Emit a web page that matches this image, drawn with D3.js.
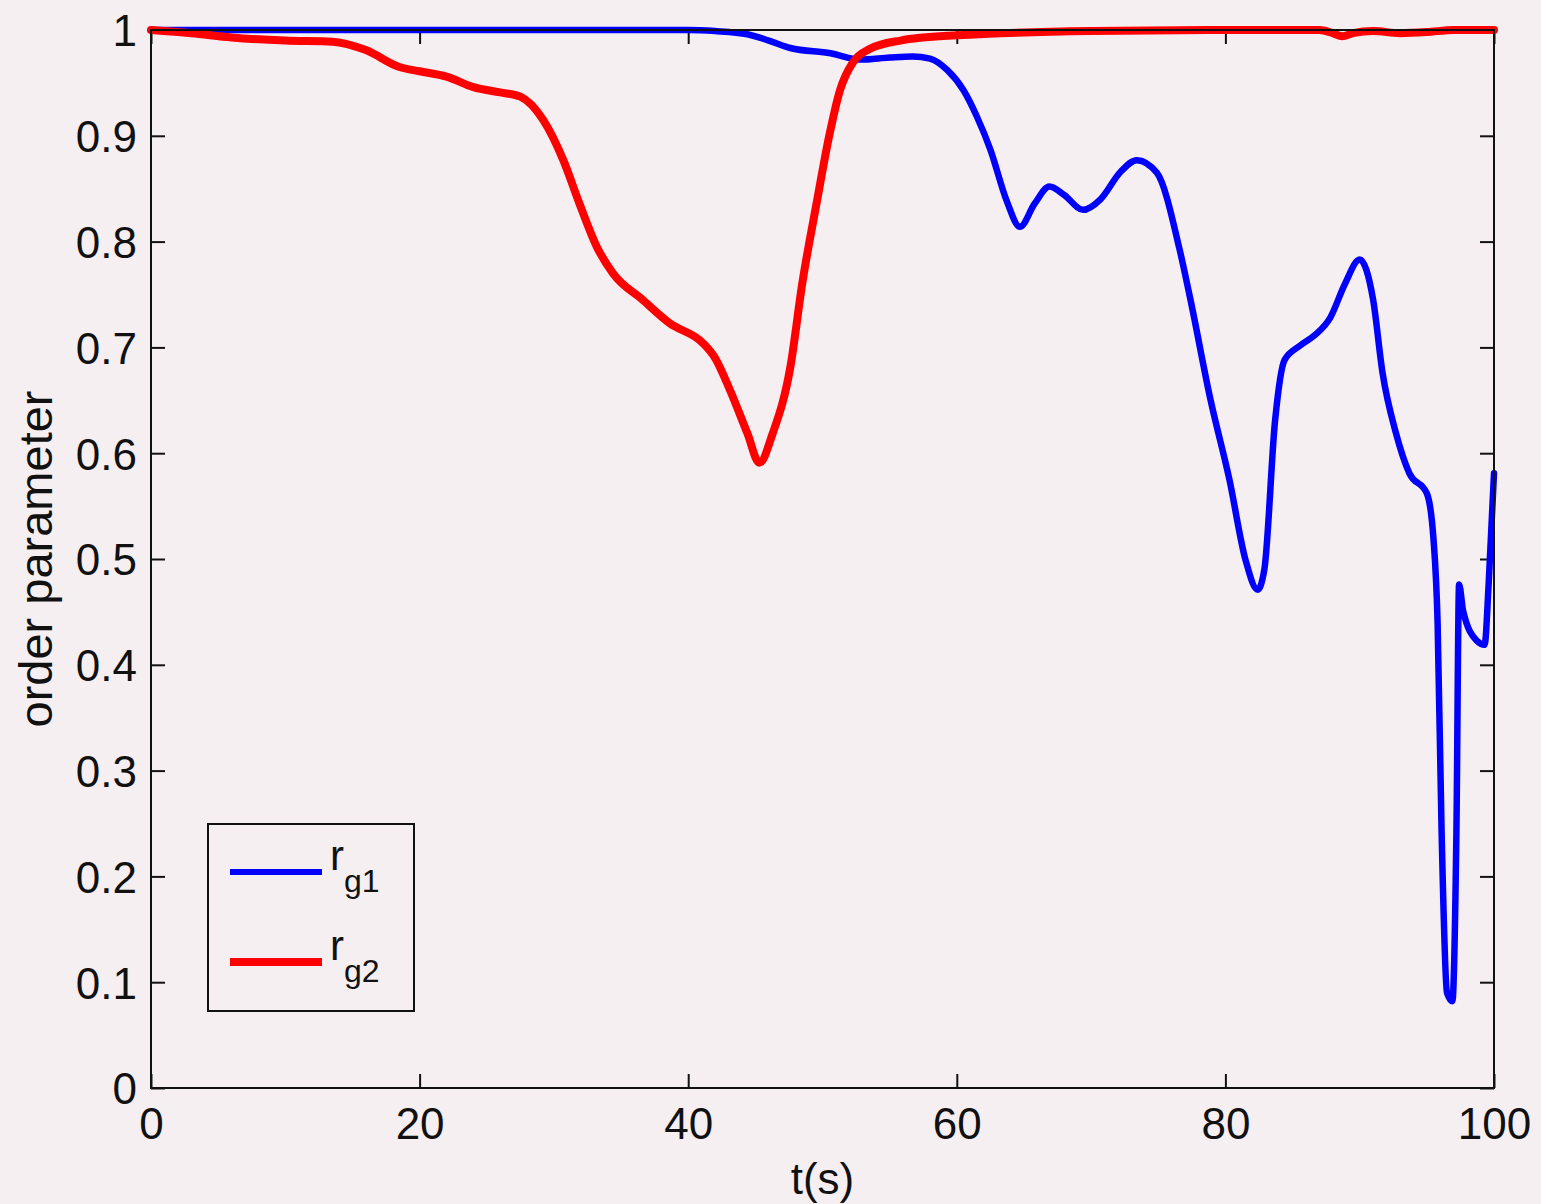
<!DOCTYPE html>
<html>
<head>
<meta charset="utf-8">
<script src="https://cdn.jsdelivr.net/npm/d3@7"></script>
<style>
  body { margin: 0; background: #f6eff2; }
  svg { display: block; }
  text { font-family: "Liberation Sans", Arial, Helvetica, sans-serif; fill: #111; }
</style>
</head>
<body>
<div id="chart"></div>
<script>
// r_g1 (blue)
const tBlue = [0, 40, 42, 44.4, 46, 47.6, 50.6, 52.8, 55, 56.7, 58, 59.3, 60.5, 61.5, 62.5, 63.7, 64.7, 65.8, 66.9, 68, 69.4, 70.7, 72.2, 73.4, 74.9, 76.6, 77.4, 78.9, 80.3, 81.5, 82.4, 82.9, 83.7, 84.4, 85.6, 86.7, 87.8, 88.9, 90, 91, 91.7, 92.7, 93.7, 95.0, 95.5, 95.8, 96.1, 96.5, 96.9, 97.2, 97.4, 97.7, 98.7, 99.3, 99.6, 100];
const vBlue = [1, 1, 0.999, 0.996, 0.99, 0.983, 0.978, 0.972, 0.974, 0.975, 0.973, 0.962, 0.943, 0.918, 0.887, 0.839, 0.814, 0.836, 0.852, 0.844, 0.83, 0.84, 0.866, 0.877, 0.865, 0.792, 0.745, 0.65, 0.575, 0.499, 0.471, 0.49, 0.631, 0.688, 0.702, 0.712, 0.728, 0.76, 0.783, 0.745, 0.676, 0.619, 0.581, 0.562, 0.518, 0.44, 0.241, 0.09, 0.082, 0.241, 0.476, 0.451, 0.423, 0.419, 0.476, 0.581];

// r_g2 (red)
const tRed = [0, 3, 6, 10, 13.5, 16, 18.5, 20, 22, 24, 26, 27.5, 29.2, 30.7, 31.9, 33.2, 34.4, 36.6, 38.6, 41.1, 42, 43.1, 44.4, 45.3, 46.3, 47.6, 48.5, 49.6, 50.5, 51.3, 52.3, 53.5, 55.8, 60, 70, 80, 87, 88, 88.7, 89.5, 91, 93, 95, 97, 100];
const vRed = [1, 0.997, 0.993, 0.99, 0.989, 0.981, 0.965, 0.961, 0.956, 0.946, 0.941, 0.937, 0.915, 0.877, 0.836, 0.795, 0.77, 0.745, 0.723, 0.704, 0.69, 0.66, 0.619, 0.591, 0.619, 0.681, 0.761, 0.839, 0.9, 0.943, 0.97, 0.982, 0.99, 0.995, 0.999, 1, 1, 0.997, 0.994, 0.997, 0.999, 0.997, 0.998, 1, 1];

const xTicks = [0, 20, 40, 60, 80, 100];
const yTicks = [0, 0.1, 0.2, 0.3, 0.4, 0.5, 0.6, 0.7, 0.8, 0.9, 1];
const legendLabels = [['r', 'g1'], ['r', 'g2']];
const colors = ['#0000ff', '#ff0000'];

const W = 1541, H = 1204;
const margin = { left: 151, top: 30, right: 47, bottom: 116 };
const pw = W - margin.left - margin.right;
const ph = H - margin.top - margin.bottom;

const svg = d3.select('#chart').append('svg')
  .attr('width', W)
  .attr('height', H);

const g = svg.append('g').attr('transform', 'translate(' + margin.left + ',' + margin.top + ')');

const x = d3.scaleLinear().domain([0, 100]).range([0, pw]);
const y = d3.scaleLinear().domain([0, 1]).range([ph, 0]);

const tickLen = 14;

// axes: ticks point inward, on all four sides
const xAxis = d3.axisBottom(x).tickValues(xTicks).tickSize(-tickLen).tickPadding(20).tickFormat(d3.format('d'));
const yAxis = d3.axisLeft(y).tickValues(yTicks).tickSize(-tickLen).tickPadding(14).tickFormat(d => d === 0 || d === 1 ? d : d3.format('.1f')(d));

const gx = g.append('g').attr('transform', 'translate(0,' + ph + ')').call(xAxis);
const gy = g.append('g').call(yAxis);
g.append('g').call(d3.axisTop(x).tickValues(xTicks).tickSize(-tickLen).tickFormat(''));
g.append('g').attr('transform', 'translate(' + pw + ',0)').call(d3.axisRight(y).tickValues(yTicks).tickSize(-tickLen).tickFormat(''));

g.selectAll('.domain').remove();
g.selectAll('.tick line').attr('stroke', '#111').attr('stroke-width', 2);
gx.selectAll('text').style('font-size', '44px').attr('fill', '#111');
gy.selectAll('text').style('font-size', '44px').attr('fill', '#111').attr('dy', '0.36em');

// series
const line = d3.line()
  .x(d => x(d[0]))
  .y(d => y(d[1]))
  .curve(d3.curveMonotoneX);

const series = [
  { t: tBlue, v: vBlue, w: 6.5 },
  { t: tRed, v: vRed, w: 8 }
];

// red drawn above blue like the reference crossing
[0, 1].forEach(i => {
  const s = series[i];
  g.append('path')
    .datum(s.t.map((t, j) => [t, s.v[j]]))
    .attr('fill', 'none')
    .attr('stroke', colors[i])
    .attr('stroke-width', s.w)
    .attr('stroke-linejoin', 'round')
    .attr('stroke-linecap', 'round')
    .attr('d', line);
});

// plot box
g.append('rect')
  .attr('width', pw).attr('height', ph)
  .attr('fill', 'none')
  .attr('stroke', '#111')
  .attr('stroke-width', 2);

// legend
const lg = svg.append('g').attr('transform', 'translate(208,824)');
lg.append('rect')
  .attr('width', 206).attr('height', 187)
  .attr('fill', '#f6eff2')
  .attr('stroke', '#111')
  .attr('stroke-width', 2);

legendLabels.forEach((lab, i) => {
  const yy = 48 + i * 90;
  lg.append('line')
    .attr('x1', 22).attr('x2', 114)
    .attr('y1', yy).attr('y2', yy)
    .attr('stroke', colors[i])
    .attr('stroke-width', i === 0 ? 6 : 8);
  const txt = lg.append('text')
    .attr('x', 122).attr('y', yy - 2)
    .style('font-size', '42px');
  txt.append('tspan').text(lab[0]);
  txt.append('tspan').attr('dy', 22).style('font-size', '32px').text(lab[1]);
});

// axis labels
svg.append('text')
  .attr('x', margin.left + pw / 2)
  .attr('y', 1194)
  .attr('text-anchor', 'middle')
  .style('font-size', '44px')
  .text('t(s)');

svg.append('text')
  .attr('transform', 'translate(52,' + (margin.top + ph / 2) + ') rotate(-90)')
  .attr('text-anchor', 'middle')
  .style('font-size', '47px')
  .text('order parameter');
</script>
</body>
</html>
